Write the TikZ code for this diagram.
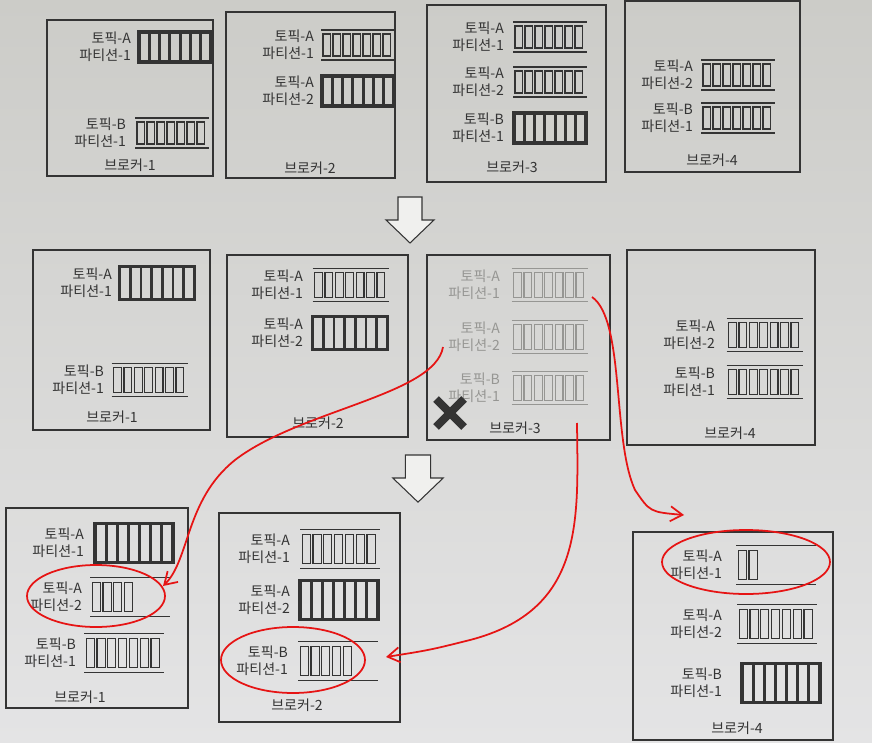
\documentclass[tikz,border=0pt]{standalone}
\usepackage{fontspec}
\newfontfamily\krfont{Noto Sans CJK KR}
\usetikzlibrary{arrows.meta}

\definecolor{papertop}{RGB}{204,204,200}
\definecolor{paperbot}{RGB}{228,228,229}
\definecolor{ink}{RGB}{52,52,52}
\definecolor{faded}{RGB}{150,150,147}
\definecolor{pen}{RGB}{230,20,20}
\colorlet{pc}{ink}

\tikzset{
  plabel/.style={anchor=east, align=right, text=pc, inner sep=1pt,
    font=\krfont\fontsize{8}{9.5}\selectfont},
  bname/.style={text=ink, inner sep=1pt, font=\krfont\fontsize{8}{9.5}\selectfont},
  broker/.style={draw=ink, line width=0.8pt},
  row2/.style={xscale=1.04, yscale=1.1},
  row3/.style={xscale=1.08, yscale=1.3},
  pics/follower/.style={code={
    \draw[pc, line width=0.9pt] (-37,-15) -- (37,-15) (-37,15) -- (37,15);
    \foreach \i in {1,...,#1}
      \draw[pc, line width=0.6pt] ({-35+(\i-1)*10},-11) rectangle ++(7.5,22);
  }},
  pics/leader/.style={code={
    \foreach \i in {1,...,6}
      \draw[pc, line width=1.6pt] ({-36+\i*72/7},-15) -- ++(0,30);
    \draw[pc, line width=2.2pt] (-36,-15) rectangle (36,15);
  }},
  hollow/.style={draw=ink, fill=white!70!papertop, line width=0.6pt, line join=miter},
  redpen/.style={draw=pen, line width=1pt},
  redarrow/.style={redpen, -{Straight Barb[length=2.4mm, width=3mm]}},
}

\begin{document}
\begin{tikzpicture}[x=0.02cm, y=-0.02cm]
\useasboundingbox (0,0) rectangle (872,743);
\shade[top color=papertop, bottom color=paperbot] (0,0) rectangle (872,743);

% row 1
\draw[broker] (47,20) rectangle (213,176);
\node[plabel] (r1b1a1) at (133,47) {토픽-A\\파티션-1};
\pic at (175,47) {leader};
\node[plabel] (r1b1b1) at (128,133) {토픽-B\\파티션-1};
\pic at (172,133) {follower=7};
\node[bname] (r1b1) at (130,165) {브로커-1};

\draw[broker] (226,12) rectangle (395,178);
\node[plabel] (r1b2a1) at (316,45) {토픽-A\\파티션-1};
\pic at (358,45) {follower=7};
\node[plabel] (r1b2a2) at (316,91) {토픽-A\\파티션-2};
\pic at (358,91) {leader};
\node[bname] (r1b2) at (310,168) {브로커-2};

\draw[broker] (427,5) rectangle (606,182);
\node[plabel] (r1b3a1) at (506,37) {토픽-A\\파티션-1};
\pic at (550,37) {follower=7};
\node[plabel] (r1b3a2) at (506,82) {토픽-A\\파티션-2};
\pic at (550,82) {follower=7};
\node[plabel] (r1b3b1) at (506,128) {토픽-B\\파티션-1};
\pic at (550,128) {leader};
\node[bname] (r1b3) at (512,167) {브로커-3};

\draw[broker] (625,1) rectangle (800,172);
\node[plabel] (r1b4a2) at (695,75) {토픽-A\\파티션-2};
\pic at (738,75) {follower=7};
\node[plabel] (r1b4b1) at (695,118) {토픽-B\\파티션-1};
\pic at (738,118) {follower=7};
\node[bname] (r1b4) at (712,160) {브로커-4};

% down arrows
\foreach \ax/\ay/\aw in {410/197/1, 418/455/1.05}
  \draw[hollow] (\ax,\ay) ++(-12*\aw,0) -- ++(24*\aw,0) -- ++(0,23)
    -- ++(12*\aw,0) -- ++(-24*\aw,23*\aw) -- ++(-24*\aw,-23*\aw) -- ++(12*\aw,0) -- cycle;

% row 2
\draw[broker] (33,250) rectangle (210,430);
\node[plabel] (r2b1a1) at (114,283) {토픽-A\\파티션-1};
\pic[row2] at (157,283) {leader};
\node[plabel] (r2b1b1) at (106,380) {토픽-B\\파티션-1};
\pic[row2] at (150,380) {follower=7};
\node[bname] (r2b1) at (112,417) {브로커-1};

\draw[broker] (227,255) rectangle (408,437);
\node[plabel] (r2b2a1) at (305,285) {토픽-A\\파티션-1};
\pic[row2] at (351,285) {follower=7};
\node[plabel] (r2b2a2) at (305,333) {토픽-A\\파티션-2};
\pic[row2] at (350,333) {leader};
\node[bname] (r2b2) at (318,423) {브로커-2};

\draw[broker] (427,255) rectangle (610,440);
\begin{scope}
  \colorlet{pc}{faded}
  \node[plabel] (r2b3a1) at (502,285) {토픽-A\\파티션-1};
  \pic[row2] at (550,285) {follower=7};
  \node[plabel] (r2b3a2) at (502,337) {토픽-A\\파티션-2};
  \pic[row2] at (550,337) {follower=7};
  \node[plabel] (r2b3b1) at (502,388) {토픽-B\\파티션-1};
  \pic[row2] at (550,388) {follower=7};
\end{scope}
\node[bname] (r2b3) at (515,428) {브로커-3};
\draw[ink, line width=4.5pt] (436,399) -- (464,427) (436,427) -- (464,399);

\draw[broker] (627,250) rectangle (815,445);
\node[plabel] (r2b4a2) at (717,335) {토픽-A\\파티션-2};
\pic[row2] at (765,335) {follower=7};
\node[plabel] (r2b4b1) at (717,382) {토픽-B\\파티션-1};
\pic[row2] at (765,382) {follower=7};
\node[bname] (r2b4) at (730,433) {브로커-4};

% row 3
\draw[broker] (6,508) rectangle (188,708);
\node[plabel] (r3b1a1) at (86,543) {토픽-A\\파티션-1};
\pic[row3] at (134,543) {leader};
\node[plabel] (r3b1a2) at (84,597) {토픽-A\\파티션-2};
\pic[row3] at (130,597) {follower=4};
\node[plabel] (r3b1b1) at (78,653) {토픽-B\\파티션-1};
\pic[row3] at (124,653) {follower=7};
\node[bname] (r3b1) at (80,697) {브로커-1};

\draw[broker] (219,513) rectangle (400,722);
\node[plabel] (r3b2a1) at (292,549) {토픽-A\\파티션-1};
\pic[row3] at (340,549) {follower=7};
\node[plabel] (r3b2a2) at (292,600) {토픽-A\\파티션-2};
\pic[row3] at (339,600) {leader};
\node[plabel] (r3b2b1) at (290,661) {토픽-B\\파티션-1};
\pic[row3] at (338,661) {follower=5};
\node[bname] (r3b2) at (297,705) {브로커-2};

\draw[broker] (633,532) rectangle (833,740);
\node[plabel] (r3b4a1) at (724,565) {토픽-A\\파티션-1};
\pic[row3] at (776,565) {follower=2};
\node[plabel] (r3b4a2) at (724,624) {토픽-A\\파티션-2};
\pic[row3] at (777,624) {follower=7};
\node[plabel] (r3b4b1) at (724,683) {토픽-B\\파티션-1};
\pic[row3] at (781,683) {leader};
\node[bname] (r3b4) at (737,728) {브로커-4};

% red pen marks
\coordinate (s1) at (443,347);
\coordinate (e1) at (163,586);
\coordinate (s2) at (577,423);
\coordinate (e2) at (386,657);
\coordinate (s3) at (592,297);
\coordinate (e3) at (684,515);
\draw[redarrow] (s1) .. controls (435,395) and (300,410) .. (235,460)
  .. controls (185,500) and (190,560) .. (e1);
\draw[redarrow] (s2) .. controls (578,520) and (585,610) .. (470,640)
  .. controls (430,650) .. (e2);
\draw[redarrow] (s3) .. controls (625,320) and (612,440) .. (635,490)
  .. controls (650,512) .. (e3);
\draw[redpen] (96,596) ellipse [x radius=1.38cm, y radius=0.62cm];
\draw[redpen] (293,660) ellipse [x radius=1.44cm, y radius=0.66cm];
\draw[redpen] (746,562) ellipse [x radius=1.68cm, y radius=0.64cm];
\end{tikzpicture}
\end{document}
